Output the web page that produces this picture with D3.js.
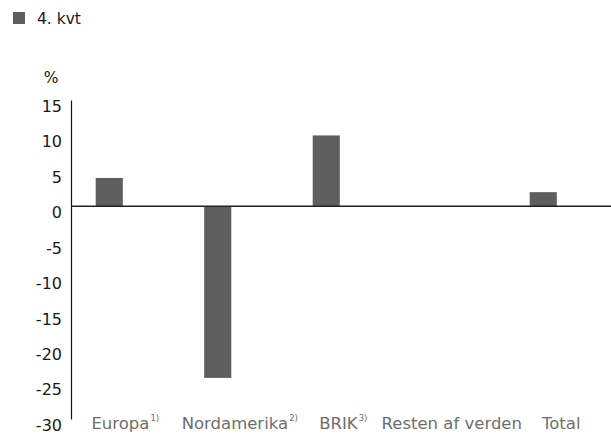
<!DOCTYPE html>
<html>
<head>
<meta charset="utf-8">
<script src="https://cdn.jsdelivr.net/npm/d3@7"></script>
<style>
  html, body { margin: 0; padding: 0; background: #fff; }
  svg { display: block; font-family: "DejaVu Sans", sans-serif; }
</style>
</head>
<body>
<svg id="chart" width="611" height="435"></svg>
<script>
// Regional growth, 4th quarter (%)
const regions   = ["Europa", "Nordamerika", "BRIK", "Resten af verden", "Total"];
const footnotes = ["1)", "2)", "3)", "", ""];
const q4Values  = [4, -24.2, 10, 0, 2];
const yTicks    = [15, 10, 5, 0, -5, -10, -15, -20, -25, -30];
const seriesName = "4. kvt";
const unitLabel  = "%";

const BAR = "#5e5e5e";
const FONT = "'DejaVu Sans', sans-serif";
const svg = d3.select("#chart");

const y = d3.scaleLinear().domain([-30, 15]).range([419, 100]);
const x = d3.scaleBand().domain(regions)
  .range([55, 597.5]).paddingInner(0.75).paddingOuter(0.375);

// horizontal nudge of category labels relative to bar centres
const labelNudge = [16, 22, 17, 17, 18];

// legend
svg.append("rect").attr("x", 13).attr("y", 12).attr("width", 12).attr("height", 12).attr("fill", BAR);
svg.append("text").attr("x", 37).attr("y", 24).attr("font-size", 15.5).attr("fill", "#1a1a1a").text(seriesName);

// unit label
svg.append("text").attr("x", 51).attr("y", 83).attr("text-anchor", "middle")
  .attr("font-size", 15.5).attr("fill", "#1a1a1a").text(unitLabel);

// bars
svg.append("g").selectAll("rect").data(q4Values).join("rect")
  .attr("x", (d, i) => x(regions[i]))
  .attr("width", x.bandwidth())
  .attr("y", d => y(Math.max(0, d)))
  .attr("height", d => Math.abs(y(d) - y(0)))
  .attr("fill", BAR);

// y axis (plain hyphen for negatives)
const yAxis = svg.append("g").attr("transform", "translate(71,0)")
  .call(d3.axisLeft(y).tickValues(yTicks).tickSize(0).tickPadding(9).tickFormat(d => String(d)));
yAxis.select(".domain").attr("stroke", "#111").attr("stroke-width", 1.2);
yAxis.selectAll("text").attr("font-size", 16).attr("fill", "#1a1a1a")
  .attr("font-family", FONT).attr("dy", "0.71em");

// zero line
svg.append("line").attr("x1", 71).attr("x2", 611).attr("y1", y(0)).attr("y2", y(0))
  .attr("stroke", "#222").attr("stroke-width", 1.5);

// category labels with footnote markers
const labels = svg.append("g").selectAll("text").data(regions).join("text")
  .attr("x", (d, i) => x(d) + x.bandwidth() / 2 + labelNudge[i])
  .attr("y", 429)
  .attr("text-anchor", "middle")
  .attr("font-size", 16.5)
  .attr("fill", "#6e6e6e");
labels.append("tspan").text(d => d);
labels.append("tspan")
  .attr("font-size", 8.5).attr("dy", -8.5).attr("dx", 1)
  .text((d, i) => footnotes[i]);
</script>
</body>
</html>
